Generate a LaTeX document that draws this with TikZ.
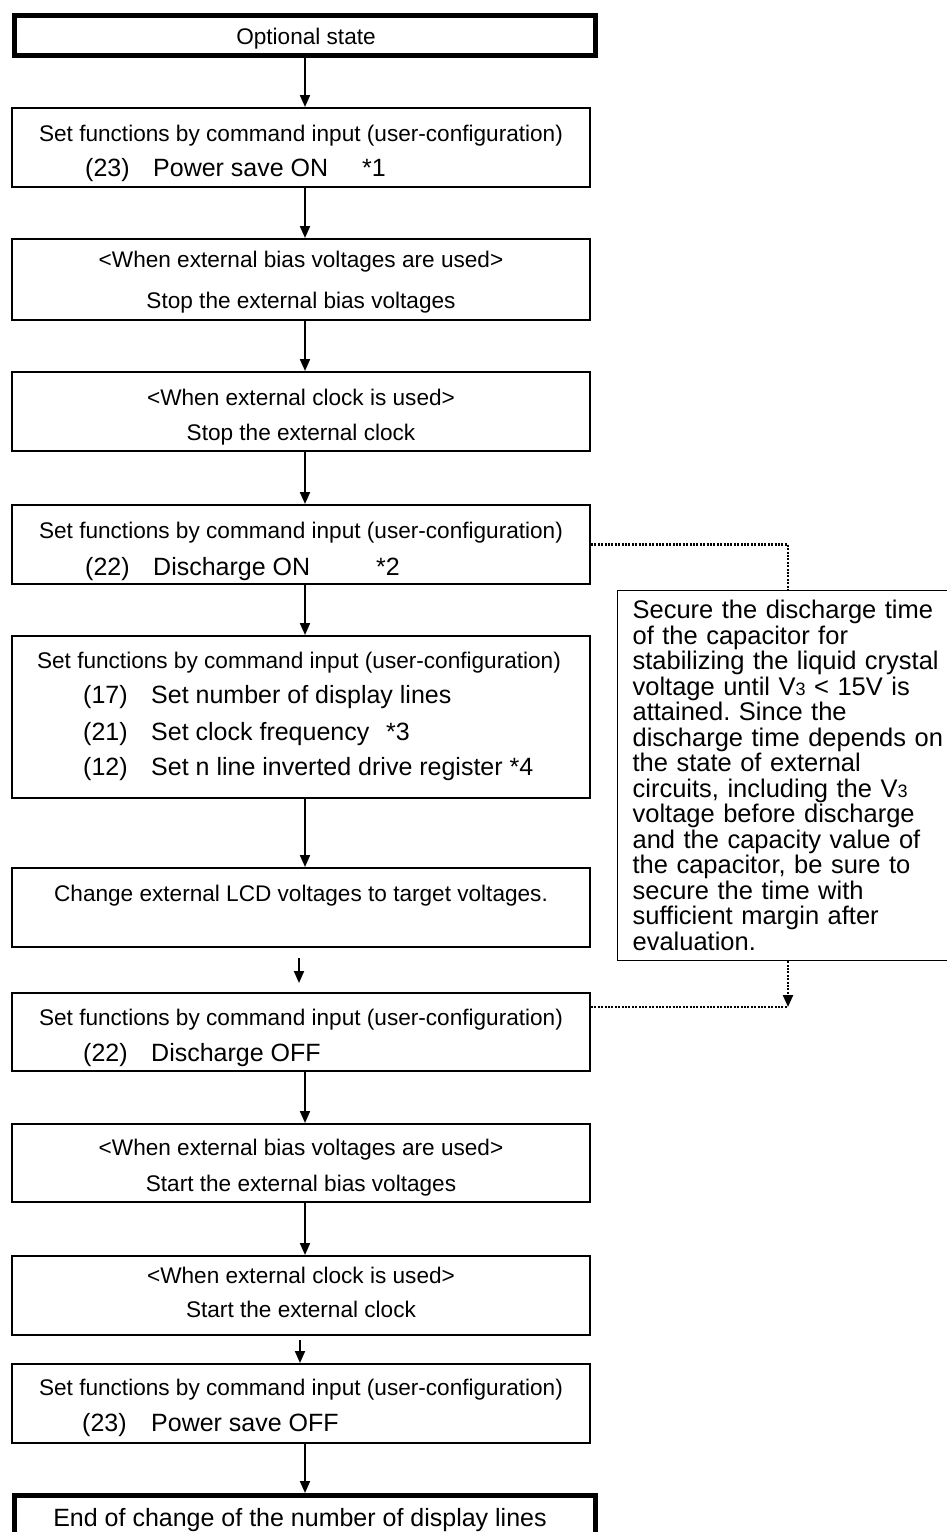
\documentclass[tikz,border=0pt]{standalone}
\usepackage{fontspec}
\setmainfont{Liberation Sans}
\usetikzlibrary{arrows.meta,calc}

\begin{document}
\frenchspacing
\begin{tikzpicture}[x=1pt,y=-1pt,
  box/.style={draw, line width=2pt, rectangle, inner sep=0pt, anchor=north west, minimum width=578pt},
  termbox/.style={draw, line width=5pt, rectangle, inner sep=0pt, anchor=north west, minimum width=581pt},
  notebox/.style={draw, line width=1.2pt, rectangle, anchor=north west, inner xsep=14pt, inner ysep=0pt,
    text width=315pt, align=left, font=\fontsize{25.5}{25.5}\selectfont},
  head/.style={anchor=base, inner sep=0pt, font=\fontsize{22.6}{26}\selectfont},
  item/.style={anchor=base west, inner sep=0pt, font=\fontsize{25}{30}\selectfont},
  flow/.style={line width=2pt, -{Triangle[length=12pt,width=10pt]}},
  link/.style={line width=2.2pt, dash pattern=on 2pt off 1.4pt},
  linktip/.style={-{Triangle[length=12pt,width=10pt]}},
]
\useasboundingbox (0,0) rectangle (946,1532);

% flow boxes (outer corner, path size)
\node[termbox, minimum height=40pt] (b1) at (12,13) {};
\node[box, minimum height=79pt] (b2) at (11,107) {};
\node[box, minimum height=81pt] (b3) at (11,238) {};
\node[box, minimum height=79pt] (b4) at (11,371) {};
\node[box, minimum height=79pt] (b5) at (11,504) {};
\node[box, minimum height=162pt] (b6) at (11,635) {};
\node[box, minimum height=79pt] (b7) at (11,867) {};
\node[box, minimum height=78pt] (b8) at (11,992) {};
\node[box, minimum height=78pt] (b9) at (11,1123) {};
\node[box, minimum height=79pt] (b10) at (11,1255) {};
\node[box, minimum height=79pt] (b11) at (11,1363) {};
\node[termbox, minimum height=52pt] (b12) at (12,1493) {};

% texts
\node[head] (t1) at (306,44) {Optional state};

\node[head] (t2a) at (301,141) {Set functions by command input (user-configuration)};
\node[item] (t2b) at (85,176) {(23)};
\node[item] (t2c) at (153,176) {Power save ON};
\node[item] (t2d) at (362,176) {*1};

\node[head] (t3a) at (301,267) {<When external bias voltages are used>};
\node[head] (t3b) at (301,308) {Stop the external bias voltages};

\node[head] (t4a) at (301,405) {<When external clock is used>};
\node[head] (t4b) at (301,440) {Stop the external clock};

\node[head] (t5a) at (301,538) {Set functions by command input (user-configuration)};
\node[item] (t5b) at (85,575) {(22)};
\node[item] (t5c) at (153,575) {Discharge ON};
\node[item] (t5d) at (376,575) {*2};

\node[head] (t6a) at (299,668) {Set functions by command input (user-configuration)};
\node[item] (t6b) at (83,703) {(17)};
\node[item] (t6c) at (151,703) {Set number of display lines};
\node[item] (t6d) at (83,740) {(21)};
\node[item] (t6e) at (151,740) {Set clock frequency};
\node[item] (t6f) at (386,740) {*3};
\node[item] (t6g) at (83,775) {(12)};
\node[item] (t6h) at (151,775) {Set n line inverted drive register *4};

\node[head] (t7) at (301,901) {Change external LCD voltages to target voltages.};

\node[head] (t8a) at (301,1025) {Set functions by command input (user-configuration)};
\node[item] (t8b) at (83,1061) {(22)};
\node[item] (t8c) at (151,1061) {Discharge OFF};

\node[head] (t9a) at (301,1155) {<When external bias voltages are used>};
\node[head] (t9b) at (301,1191) {Start the external bias voltages};

\node[head] (t10a) at (301,1283) {<When external clock is used>};
\node[head] (t10b) at (301,1317) {Start the external clock};

\node[head] (t11a) at (301,1395) {Set functions by command input (user-configuration)};
\node[item] (t11b) at (82,1431) {(23)};
\node[item] (t11c) at (151,1431) {Power save OFF};

\node[item, anchor=base] (t12) at (300,1526) {End of change of the number of display lines};

% side note on the discharge time
\node[notebox, minimum width=345pt, minimum height=370pt] (note) at (617,590) {%
Secure the discharge time\\
of the capacitor for\\
stabilizing the liquid crystal\\
voltage until V{\fontsize{18}{18}\selectfont 3} < 15V is\\
attained. Since the\\
discharge time depends on\\
the state of external\\
circuits, including the V{\fontsize{18}{18}\selectfont 3}\\
voltage before discharge\\
and the capacity value of\\
the capacitor, be sure to\\
secure the time with\\
sufficient margin after\\
evaluation.};

% main flow
\coordinate (ax) at (305,0);
\coordinate (ay) at (299,0);
\coordinate (az) at (300,0);
\draw[flow] (b1.south -| ax) -- (b2.north -| ax);
\draw[flow] (b2.south -| ax) -- (b3.north -| ax);
\draw[flow] (b3.south -| ax) -- (b4.north -| ax);
\draw[flow] (b4.south -| ax) -- (b5.north -| ax);
\draw[flow] (b5.south -| ax) -- (b6.north -| ax);
\draw[flow] (b6.south -| ax) -- (b7.north -| ax);
\draw[flow, shorten <=10pt, shorten >=9pt] (b7.south -| ay) -- (b8.north -| ay);
\draw[flow] (b8.south -| ax) -- (b9.north -| ax);
\draw[flow] (b9.south -| ax) -- (b10.north -| ax);
\draw[flow, shorten <=4pt] (b10.south -| az) -- (b11.north -| az);
\draw[flow] (b11.south -| ax) -- (b12.north -| ax);

% dotted links to and from the note
\coordinate (dx) at (788,0);
\draw[link] (b5.east) -| (note.north -| dx);
\coordinate (m8) at ($(b8.north east)+(0,15)$);
\draw[link] (m8) -- (m8 -| dx);
\draw[link, linktip] (note.south -| dx) -- (m8 -| dx);
\end{tikzpicture}
\end{document}
